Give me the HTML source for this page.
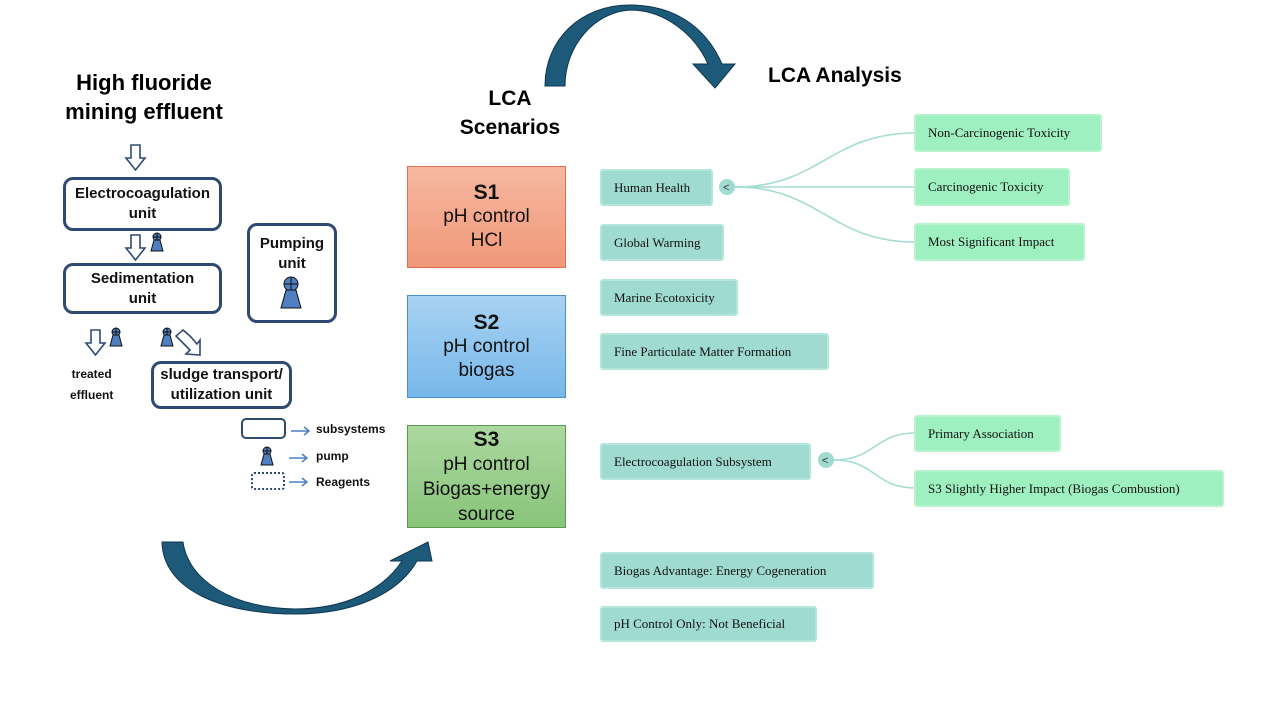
<!DOCTYPE html>
<html><head><meta charset="utf-8"><style>
body{margin:0;width:1280px;height:720px;background:#fff;position:relative;overflow:hidden;font-family:"Liberation Sans",sans-serif}
.a{position:absolute}
.t{font-weight:bold;text-align:center;color:#000}
.ub{position:absolute;border:3px solid #2f4a72;border-radius:10px;box-sizing:border-box;display:flex;align-items:center;justify-content:center;text-align:center;font-weight:bold;font-size:15px;line-height:20px;color:#111}
.s{position:absolute;box-sizing:border-box;display:flex;flex-direction:column;align-items:center;justify-content:center;font-size:19px;line-height:24px;color:#111;text-align:center}
.n{position:absolute;box-sizing:border-box;border-radius:3px;font-family:"Liberation Serif",serif;font-size:13px;color:#111;display:flex;align-items:center;padding-left:12px}
.l{background:#9fdbd0;border:2px solid #b5e6dc}
.r{background:#9ff0c0;border:2px solid #b8f3d0}
.sm{font-weight:bold;font-size:12px;position:absolute;color:#111}
</style></head><body>
<div class="a t" style="left:34px;top:68px;width:220px;font-size:22px;line-height:29px">High fluoride<br>mining effluent</div>
<div class="a t" style="left:430px;top:84px;width:160px;font-size:21px;line-height:29px">LCA<br>Scenarios</div>
<div class="a t" style="left:768px;top:64px;font-size:21px">LCA Analysis</div>

<svg class="a" style="left:0;top:0" width="1280" height="720">
<!-- top arrow -->
<path d="M545 86 L565 86 C565 45 595 12 630 10 C665 10 695 35 708 64 L693 64 L715 88 L735 64 L722 64 C705 25 672 5 630 5 C580 5 545 40 545 86 Z" fill="#1d5a7a" stroke="#0e3550" stroke-width="1"/>
<!-- bottom arrow -->
<path d="M162 542 L183 542 C188 580 232 608 295 609 C345 609 383 590 402 561 L390 561 L428 542 L432 561 L417 561 C397 596 350 614 295 614 C222 614 163 590 162 542 Z" fill="#1d5a7a" stroke="#0e3550" stroke-width="1"/>
<!-- hollow arrows -->
<g fill="#fff" stroke="#2f4a72" stroke-width="1.6">
<path d="M131 145 L140 145 L140 158 L145 158 L135.5 170 L126 158 L131 158Z"/>
<path d="M131 235 L140 235 L140 248 L145 248 L135.5 260 L126 248 L131 248Z"/>
<path d="M91 330 L100 330 L100 343 L105 343 L95.5 355 L86 343 L91 343Z"/>
<path d="M183 330 L190 336 L197 344 L200 340 L200 355 L186 354 L190 350 L176 336Z"/>
</g>
<!-- connectors -->
<g fill="none" stroke="#a5ddd2" stroke-width="1.6">
<path d="M735 187 C820 187 830 133 915 133"/>
<path d="M735 187 L915 187"/>
<path d="M735 187 C820 187 830 242 915 242"/>
<path d="M834 460 C875 460 875 433 915 433"/>
<path d="M834 460 C875 460 875 488 915 488"/>
</g>
<circle cx="727" cy="187" r="8" fill="#9fdbd0"/>
<text x="723" y="191" font-size="11" fill="#333">&lt;</text>
<circle cx="826" cy="460" r="8" fill="#9fdbd0"/>
<text x="822" y="464" font-size="11" fill="#333">&lt;</text>
<!-- pumps -->
<g fill="#4f7fc0" stroke="#111" stroke-width="1">
<g transform="translate(157,237)"><circle cx="0" cy="0" r="4"/><path d="M-4 0 H4 M0 -4 V4"/><path d="M-3 3 L3 3 L6 14 L-6 14Z"/></g>
<g transform="translate(116,332)"><circle cx="0" cy="0" r="4"/><path d="M-4 0 H4 M0 -4 V4"/><path d="M-3 3 L3 3 L6 14 L-6 14Z"/></g>
<g transform="translate(167,332)"><circle cx="0" cy="0" r="4"/><path d="M-4 0 H4 M0 -4 V4"/><path d="M-3 3 L3 3 L6 14 L-6 14Z"/></g>
<g transform="translate(267,451)"><circle cx="0" cy="0" r="4"/><path d="M-4 0 H4 M0 -4 V4"/><path d="M-3 3 L3 3 L6 14 L-6 14Z"/></g>
<g transform="translate(291,284)"><circle cx="0" cy="0" r="7"/><path d="M-7 0 H7 M0 -7 V7" /><path d="M-5 6 L5 6 L10 24 L-10 24Z"/></g>
</g>
<!-- legend -->
<rect x="242" y="419" width="43" height="19" rx="4" fill="#fff" stroke="#2f4a72" stroke-width="2"/>
<rect x="252" y="473" width="32" height="16" rx="2" fill="#fff" stroke="#2f4a72" stroke-width="2" stroke-dasharray="2 2"/>
<g stroke="#4f7fc0" stroke-width="1.5" fill="none">
<path d="M291 431 H308 M304 427 L309 431 L304 435"/>
<path d="M289 458 H306 M302 454 L307 458 L302 462"/>
<path d="M289 482 H306 M302 478 L307 482 L302 486"/>
</g>
</svg>

<div class="ub" style="left:63px;top:177px;width:159px;height:54px">Electrocoagulation<br>unit</div>
<div class="ub" style="left:63px;top:263px;width:159px;height:51px">Sedimentation<br>unit</div>
<div class="ub" style="left:247px;top:223px;width:90px;height:100px;align-items:flex-start;padding-top:8px">Pumping<br>unit</div>
<div class="ub" style="left:151px;top:361px;width:141px;height:48px">sludge transport/<br>utilization unit</div>
<div class="sm" style="left:70px;top:364px;line-height:21px;text-align:center">treated<br>effluent</div>
<div class="sm" style="left:316px;top:422px">subsystems</div>
<div class="sm" style="left:316px;top:449px">pump</div>
<div class="sm" style="left:316px;top:475px">Reagents</div>

<div class="s" style="left:407px;top:166px;width:159px;height:102px;background:linear-gradient(#f6b8a0,#f0987a);border:1px solid #e07050"><b style="font-size:21px">S1</b>pH control<br>HCl</div>
<div class="s" style="left:407px;top:295px;width:159px;height:103px;background:linear-gradient(#a8d2f2,#78b8ea);border:1px solid #4a90c8"><b style="font-size:21px">S2</b>pH control<br>biogas</div>
<div class="s" style="left:407px;top:425px;width:159px;height:103px;background:linear-gradient(#acd8a0,#88c47a);border:1px solid #5a9a50;line-height:25px"><b style="font-size:21px">S3</b>pH control<br>Biogas+energy<br>source</div>

<div class="n l" style="left:600px;top:169px;width:113px;height:37px">Human Health</div>
<div class="n l" style="left:600px;top:224px;width:124px;height:37px">Global Warming</div>
<div class="n l" style="left:600px;top:279px;width:138px;height:37px">Marine Ecotoxicity</div>
<div class="n l" style="left:600px;top:333px;width:229px;height:37px">Fine Particulate Matter Formation</div>
<div class="n l" style="left:600px;top:443px;width:211px;height:37px">Electrocoagulation Subsystem</div>
<div class="n l" style="left:600px;top:552px;width:274px;height:37px">Biogas Advantage: Energy Cogeneration</div>
<div class="n l" style="left:600px;top:606px;width:217px;height:36px">pH Control Only: Not Beneficial</div>
<div class="n r" style="left:914px;top:114px;width:188px;height:38px">Non-Carcinogenic Toxicity</div>
<div class="n r" style="left:914px;top:168px;width:156px;height:38px">Carcinogenic Toxicity</div>
<div class="n r" style="left:914px;top:223px;width:171px;height:38px">Most Significant Impact</div>
<div class="n r" style="left:914px;top:415px;width:147px;height:37px">Primary Association</div>
<div class="n r" style="left:914px;top:470px;width:310px;height:37px">S3 Slightly Higher Impact (Biogas Combustion)</div>
</body></html>
